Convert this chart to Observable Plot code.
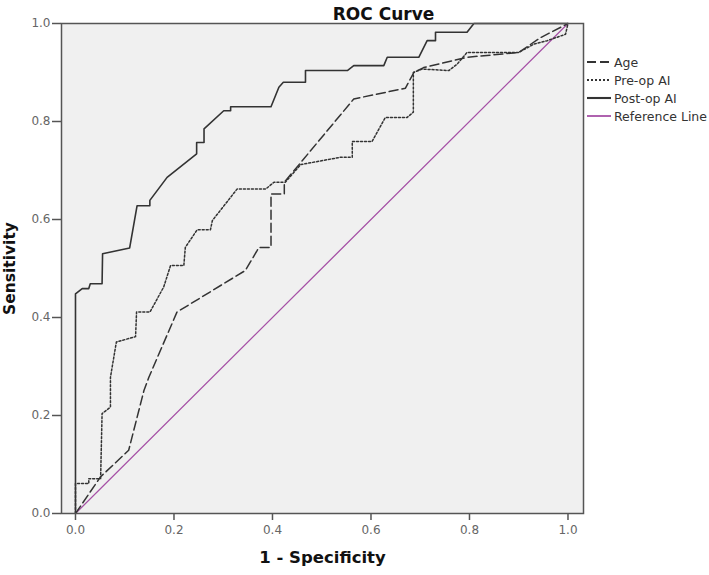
<!DOCTYPE html>
<html>
<head>
<meta charset="utf-8">
<script src="https://cdn.jsdelivr.net/npm/d3@7"></script>
<script src="https://cdn.jsdelivr.net/npm/@observablehq/plot@0.6"></script>
<style>
  html, body { margin: 0; padding: 0; background: #fff; }
  #wrap { position: relative; width: 709px; height: 575px; overflow: hidden; font-family: "DejaVu Sans", sans-serif; }
  #legend { position: absolute; left: 586px; top: 53px; font-size: 12.5px; color: #333; white-space: nowrap; }
  #legend .row { display: flex; align-items: center; height: 18px; }
  #legend svg { margin-right: 2px; }
</style>
</head>
<body>
<div id="wrap"></div>
<script>
// ---- data ----
const seriesNames = ["Age", "Pre-op AI", "Post-op AI", "Reference Line"];
const tickValues = [0, 0.2, 0.4, 0.6, 0.8, 1.0];

const ageX = [0, 0.0136, 0.051, 0.108, 0.139, 0.149, 0.206, 0.345, 0.369, 0.372, 0.397, 0.397, 0.424, 0.424, 0.565, 0.670, 0.687, 0.707, 0.795, 0.900, 0.944, 1.0];
const ageY = [0, 0.020, 0.075, 0.129, 0.251, 0.278, 0.411, 0.496, 0.537, 0.543, 0.543, 0.652, 0.652, 0.676, 0.846, 0.868, 0.900, 0.910, 0.931, 0.941, 0.971, 1.0];

const preX = [0, 0, 0.027, 0.027, 0.051, 0.054, 0.071, 0.071, 0.083, 0.122, 0.124, 0.151, 0.179, 0.193, 0.220, 0.223, 0.247, 0.274, 0.278, 0.328, 0.386, 0.403, 0.426, 0.457, 0.538, 0.562, 0.562, 0.602, 0.629, 0.673, 0.686, 0.686, 0.704, 0.758, 0.775, 0.795, 0.900, 0.931, 0.958, 0.995, 1.0];
const preY = [0, 0.061, 0.061, 0.071, 0.071, 0.204, 0.217, 0.278, 0.350, 0.361, 0.411, 0.411, 0.462, 0.506, 0.506, 0.543, 0.579, 0.579, 0.598, 0.662, 0.662, 0.676, 0.676, 0.712, 0.727, 0.727, 0.759, 0.759, 0.808, 0.808, 0.819, 0.900, 0.907, 0.904, 0.917, 0.941, 0.941, 0.958, 0.965, 0.978, 1.0];

const postX = [0, 0, 0.0136, 0.027, 0.030, 0.054, 0.055, 0.110, 0.125, 0.151, 0.151, 0.186, 0.246, 0.246, 0.261, 0.261, 0.301, 0.315, 0.315, 0.397, 0.413, 0.422, 0.467, 0.467, 0.552, 0.565, 0.626, 0.633, 0.697, 0.714, 0.731, 0.731, 0.795, 0.809, 1.0];
const postY = [0, 0.448, 0.459, 0.459, 0.469, 0.469, 0.530, 0.542, 0.628, 0.628, 0.639, 0.686, 0.734, 0.757, 0.757, 0.785, 0.822, 0.822, 0.830, 0.830, 0.870, 0.880, 0.880, 0.904, 0.904, 0.914, 0.914, 0.931, 0.931, 0.965, 0.965, 0.982, 0.982, 1.0, 1.0];

const refX = [0, 1];
const refY = [0, 1];

// ---- build tables ----
const toRows = (xs, ys) => xs.map((x, i) => ({x, y: ys[i]}));
const ageData = toRows(ageX, ageY);
const preData = toRows(preX, preY);
const postData = toRows(postX, postY);
const refData = toRows(refX, refY);

const styles = {
  "Age": {stroke: "#333", strokeWidth: 1.5, strokeDasharray: "9,4"},
  "Pre-op AI": {stroke: "#333", strokeWidth: 1.5, strokeDasharray: "2,2"},
  "Post-op AI": {stroke: "#333", strokeWidth: 1.6, strokeDasharray: null},
  "Reference Line": {stroke: "#a651a6", strokeWidth: 1.3, strokeDasharray: null}
};

const fmt = d3.format(".1f");

const chart = Plot.plot({
  width: 709,
  height: 575,
  marginLeft: 61,
  marginRight: 126,
  marginTop: 23,
  marginBottom: 62,
  style: {fontFamily: "DejaVu Sans, sans-serif", fontSize: "12px", background: "white", color: "#444"},
  x: {domain: [-0.0284, 1.0315]},
  y: {domain: [0, 1]},
  marks: [
    Plot.frame({fill: "#f0f0f0", stroke: "none"}),
    Plot.line(refData, {x: "x", y: "y", ...styles["Reference Line"]}),
    Plot.line(ageData, {x: "x", y: "y", ...styles["Age"]}),
    Plot.line(preData, {x: "x", y: "y", ...styles["Pre-op AI"]}),
    Plot.line(postData, {x: "x", y: "y", ...styles["Post-op AI"]}),
    Plot.frame({stroke: "#555", strokeWidth: 1.5}),
    Plot.axisX({ticks: tickValues, tickFormat: fmt, tickSize: 7, tickPadding: 5, label: null, stroke: "#555", strokeWidth: 1.5, fill: "#666"}),
    Plot.axisY({ticks: tickValues, tickFormat: fmt, tickSize: 9, tickPadding: 2, label: null, stroke: "#555", strokeWidth: 1.5, fill: "#666"}),
    Plot.text(["ROC Curve"], {frameAnchor: "top", dy: -16, dx: 61, fontSize: 17, fontWeight: "bold", fill: "#111"}),
    Plot.text(["1 - Specificity"], {frameAnchor: "bottom", dy: 49, fontSize: 16.5, fontWeight: "bold", fill: "#111"}),
    Plot.text(["Sensitivity"], {frameAnchor: "left", textAnchor: "middle", dx: -51, rotate: -90, fontSize: 15.5, fontWeight: "bold", fill: "#111"})
  ]
});

const wrap = document.getElementById("wrap");
wrap.appendChild(chart);

// ---- legend ----
const legend = document.createElement("div");
legend.id = "legend";
for (const name of seriesNames) {
  const s = styles[name];
  const row = document.createElement("div");
  row.className = "row";
  const ns = "http://www.w3.org/2000/svg";
  const sw = document.createElementNS(ns, "svg");
  sw.setAttribute("width", 26);
  sw.setAttribute("height", 10);
  const ln = document.createElementNS(ns, "line");
  ln.setAttribute("x1", 1); ln.setAttribute("x2", 25);
  ln.setAttribute("y1", 5); ln.setAttribute("y2", 5);
  ln.setAttribute("stroke", s.stroke);
  ln.setAttribute("stroke-width", s.strokeWidth + 0.5);
  if (s.strokeDasharray) ln.setAttribute("stroke-dasharray", s.strokeDasharray);
  sw.appendChild(ln);
  row.appendChild(sw);
  const t = document.createElement("span");
  t.textContent = name;
  row.appendChild(t);
  legend.appendChild(row);
}
wrap.appendChild(legend);
</script>
</body>
</html>
